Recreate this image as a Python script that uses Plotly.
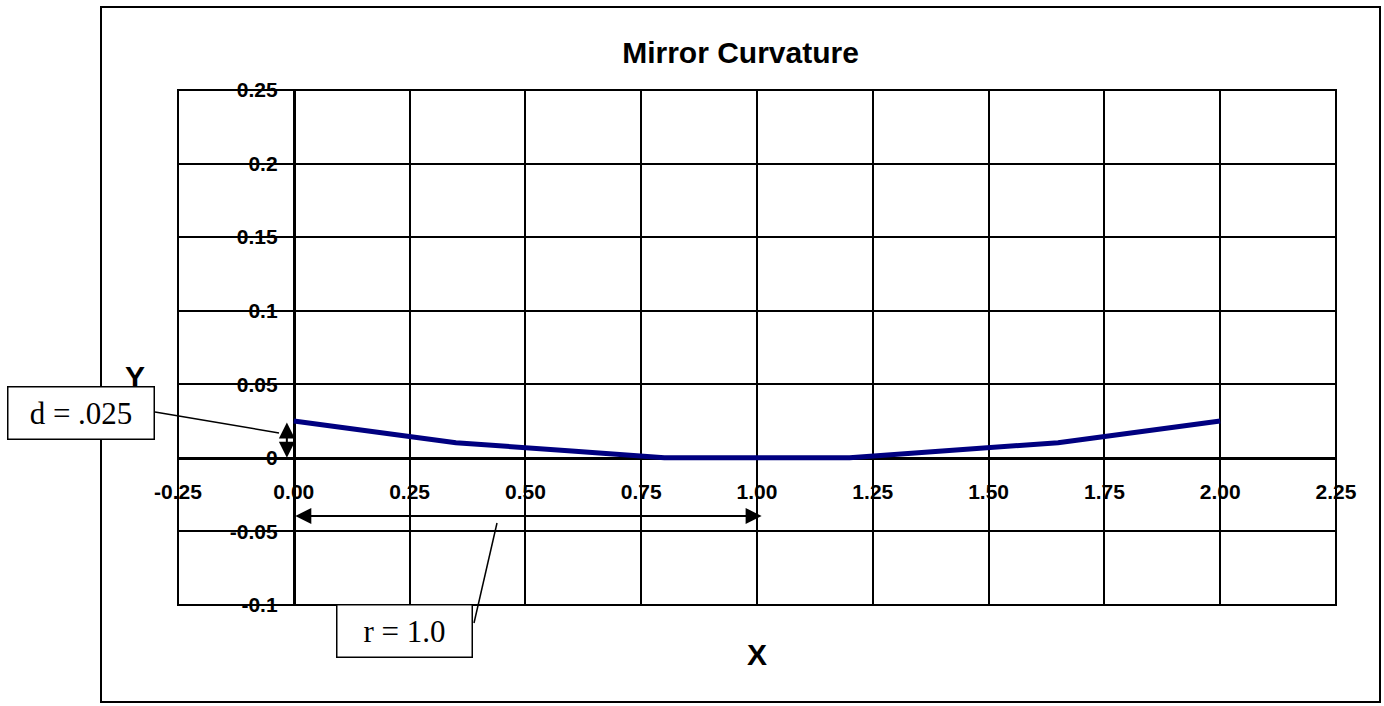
import plotly.graph_objects as go

# ---- data ----
curve_x = [0.0, 0.35, 0.6, 0.8, 1.0, 1.2, 1.4, 1.65, 2.0]
curve_y = [0.025, 0.0103, 0.0047, 0.0, 0.0, 0.0, 0.0047, 0.0103, 0.025]

x_tickvals = [-0.25, 0.0, 0.25, 0.5, 0.75, 1.0, 1.25, 1.5, 1.75, 2.0, 2.25]
x_ticktext = ["-0.25", "0.00", "0.25", "0.50", "0.75", "1.00", "1.25", "1.50", "1.75", "2.00", "2.25"]
y_tickvals = [-0.1, -0.05, 0.0, 0.05, 0.1, 0.15, 0.2, 0.25]
y_ticktext = ["-0.1", "-0.05", "0", "0.05", "0.1", "0.15", "0.2", "0.25"]

x_range = [-0.25, 2.25]
y_range = [-0.1, 0.25]

d_label = "d = .025"
r_label = "r = 1.0"
d_value = 0.025
r_value = 1.0

# ---- layout geometry (page pixels) ----
W, H = 1384, 706
L, R, T, B = 178, 1336, 90, 605


def px(xp):
    return (xp - L) / (R - L)


def py(yp):
    return (B - yp) / (B - T)


SANS = "Liberation Sans"
SERIF = "Liberation Serif"

fig = go.Figure()
fig.add_trace(go.Scatter(x=curve_x, y=curve_y, mode="lines",
                         line=dict(color="#000080", width=5),
                         hoverinfo="skip", showlegend=False))

y_pos = (0 - x_range[0]) / (x_range[1] - x_range[0])
x_pos = (0 - y_range[0]) / (y_range[1] - y_range[0])

fig.update_layout(
    width=W, height=H,
    margin=dict(l=L, r=W - R, t=T, b=H - B),
    paper_bgcolor="white", plot_bgcolor="white",
    showlegend=False,
    title=dict(text="<b>Mirror Curvature</b>", x=740.5 / W, xref="container",
               y=1 - 52 / H, yref="container", xanchor="center", yanchor="middle",
               font=dict(family=SANS, size=30, color="black")),
    xaxis=dict(range=x_range, tickvals=x_tickvals, ticktext=x_ticktext,
               anchor="free", position=x_pos,
               showgrid=True, gridcolor="black", gridwidth=2,
               zeroline=False, showline=True, linecolor="black", linewidth=3,
               ticks="outside", ticklen=7, tickwidth=2, tickcolor="black",
               ticklabelstandoff=7,
               tickfont=dict(family=SANS, size=21, color="black", weight="bold"),
               layer="below traces"),
    yaxis=dict(range=y_range, tickvals=y_tickvals, ticktext=y_ticktext,
               anchor="free", position=y_pos,
               showgrid=True, gridcolor="black", gridwidth=2,
               zeroline=False, showline=True, linecolor="black", linewidth=3,
               ticks="outside", ticklen=6, tickwidth=2, tickcolor="black",
               ticklabelstandoff=5,
               tickfont=dict(family=SANS, size=21, color="black", weight="bold"),
               layer="below traces"),
)

shapes = [
    # plot area border
    dict(type="rect", xref="paper", yref="paper", x0=0, y0=0, x1=1, y1=1,
         line=dict(color="black", width=2), layer="below"),
    # outer chart border
    dict(type="rect", xref="paper", yref="paper", x0=px(101), y0=py(702),
         x1=px(1380), y1=py(7), line=dict(color="black", width=2), layer="below"),
    # leader lines
    dict(type="line", xref="paper", yref="paper", x0=px(155), y0=py(412),
         x1=px(279), y1=py(433), line=dict(color="black", width=1.5)),
    dict(type="line", xref="paper", yref="paper", x0=px(474), y0=py(623),
         x1=px(497), y1=py(523), line=dict(color="black", width=1.5)),
]
fig.update_layout(shapes=shapes)

annotations = [
    dict(text="<b>Y</b>", xref="paper", yref="paper", x=px(135), y=py(376),
         xanchor="center", yanchor="middle",
         showarrow=False, font=dict(family=SANS, size=30, color="black")),
    dict(text="<b>X</b>", xref="paper", yref="paper", x=px(757), y=py(654),
         xanchor="center", yanchor="middle",
         showarrow=False, font=dict(family=SANS, size=30, color="black")),
    # text boxes
    dict(text=d_label, xref="paper", yref="paper", x=px(81), y=py(413),
         xanchor="center", yanchor="middle",
         showarrow=False, width=145, height=51, borderpad=0,
         bordercolor="black", borderwidth=1.5, bgcolor="white",
         font=dict(family=SERIF, size=31, color="black")),
    dict(text=r_label, xref="paper", yref="paper", x=px(404), y=py(631),
         xanchor="center", yanchor="middle",
         showarrow=False, width=134, height=51, borderpad=0,
         bordercolor="black", borderwidth=1.5, bgcolor="white",
         font=dict(family=SERIF, size=31, color="black")),
    # double arrows
    dict(text="", x=-0.015, y=0.0, ax=-0.015, ay=d_value, xref="x", yref="y",
         axref="x", ayref="y", showarrow=True, arrowhead=2, arrowside="end+start",
         arrowsize=1.6, arrowwidth=2, arrowcolor="black", standoff=0, startstandoff=0),
    dict(text="", x=r_value + 0.01, y=-0.0395, ax=0.0, ay=-0.0395, xref="x", yref="y",
         axref="x", ayref="y", showarrow=True, arrowhead=2, arrowside="end+start",
         arrowsize=1.6, arrowwidth=2, arrowcolor="black", standoff=0, startstandoff=0),
]
fig.update_layout(annotations=annotations)

fig.write_html(
    "out.html",
    config={"displayModeBar": False},
    post_script="document.body.style.margin='0';document.body.style.overflow='hidden';",
)
